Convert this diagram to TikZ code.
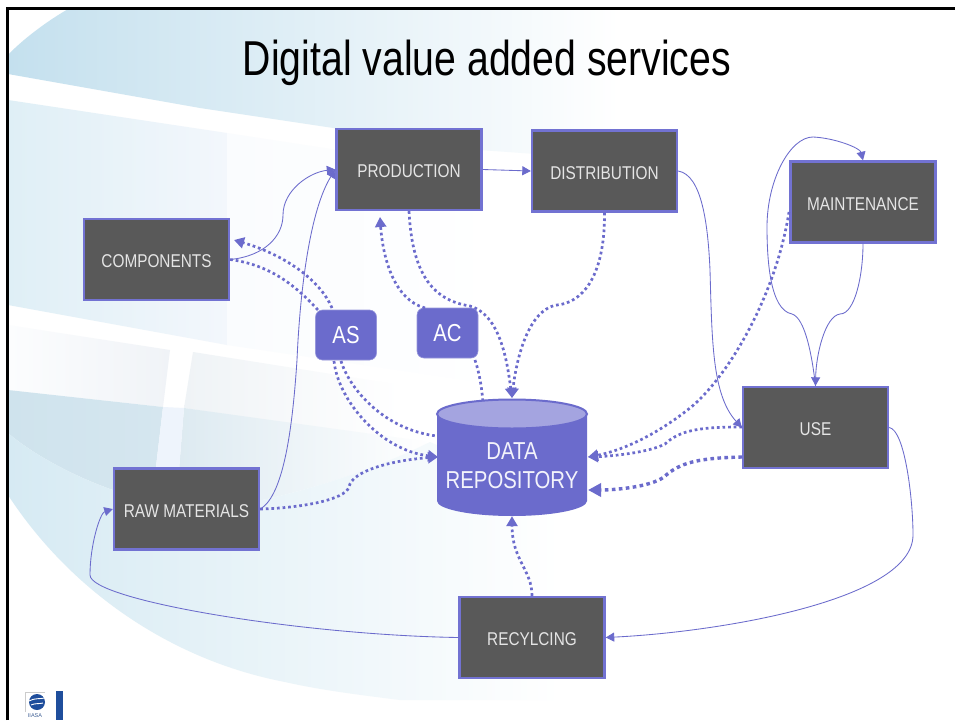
\documentclass[tikz,border=0pt]{standalone}
\usepackage{fontspec}
\setmainfont{Liberation Sans}
\newfontfamily\labfont[FakeStretch=0.83]{Liberation Sans}
\newfontfamily\titlefont[FakeStretch=0.80]{Liberation Sans}
\usetikzlibrary{arrows.meta}
\definecolor{pur}{HTML}{6B6BCC}
\definecolor{purline}{HTML}{7272D2}
\definecolor{boxfill}{HTML}{595959}
\definecolor{toptop}{HTML}{A4A4E0}
\definecolor{logoblue}{HTML}{1F4E9C}
\definecolor{a1}{HTML}{C4E0EE}\definecolor{a2}{HTML}{EAF4FA}
\definecolor{b1}{HTML}{DFEFF6}\definecolor{b2}{HTML}{F0F6FB}\definecolor{b3}{HTML}{F3F7FC}
\definecolor{b4}{HTML}{FAFCFE}
\definecolor{c1}{HTML}{FCFDFE}\definecolor{c2}{HTML}{F0F3F7}\definecolor{c3}{HTML}{EFF3F6}
\definecolor{d1}{HTML}{CFE3ED}\definecolor{d2}{HTML}{D5E6EF}\definecolor{d3}{HTML}{DDEAF1}\definecolor{d4}{HTML}{EFF4F7}
\definecolor{e1}{HTML}{D6EAF3}\definecolor{e2}{HTML}{F4FAFC}
\definecolor{vband}{HTML}{EEF4FC}
\tikzset{
  proc/.style={draw=purline,line width=2.4pt,fill=boxfill,minimum width=145pt,minimum height=81pt,inner sep=0pt,text=white!90!black,text depth=0pt,text height=16pt,font=\labfont\fontsize{18.5}{20}\selectfont},
  tag/.style={fill=pur,draw=pur!70!white,line width=.6pt,rounded corners=7pt,minimum width=61pt,minimum height=50pt,inner sep=0pt,text=white,font=\labfont\fontsize{24.5}{29}\selectfont},
  thin/.style={draw=pur,line width=.85pt,-{Triangle[length=8.5pt,width=9pt]}},
  dots/.style={draw=pur,line width=2.7pt,dash pattern=on 2.7pt off 2.9pt},
  dotsarrow/.style={dots,-{Triangle[length=10pt,width=11pt]}},
  dotsheavy/.style={draw=pur,line width=3.4pt,dash pattern=on 3.6pt off 3.4pt,-{Triangle[length=13pt,width=13pt]}},
}
\begin{document}
\begin{tikzpicture}[x=1pt,y=-1pt]
\useasboundingbox (0,0) rectangle (955,720);
\fill[white] (0,0) rectangle (955,720);
% background
\shade[left color=a1,middle color=a2,right color=white] (70,8) .. controls (45,22) and (20,42) .. (8,55) -- (8,74) -- (200,108) -- (480,150) -- (620,160) -- (620,8) -- cycle;
\shade[left color=b1,middle color=b2,right color=b3] (8,100) -- (227,133) -- (227,345) -- (8,305) -- cycle;
\shade[left color=b4,right color=white] (227,133) -- (500,175) -- (500,385) -- (227,345) -- cycle;
\shade[left color=c1,right color=c2] (8,325) -- (170,350) -- (163,407) -- (8,390) -- cycle;
\shade[left color=c3,right color=white] (193,352) -- (400,385) -- (400,440) -- (184,408) -- cycle;
\shade[left color=d1,right color=d2] (8,390) -- (163,407) -- (153,492) -- (113,490) .. controls (70,475) and (30,452) .. (8,433) -- cycle;
\shade[left color=d3,middle color=d4,right color=white] (184,408) -- (430,442) .. controls (370,472) and (300,492) .. (262,500) -- (177,495) -- cycle;
\fill[vband] (163,407) -- (184,408) -- (177,495) -- (153,492) -- cycle;
\shade[left color=e1,middle color=e2,right color=white] (8,433) .. controls (30,452) and (70,475) .. (113,490) -- (262,500) .. controls (300,492) and (370,472) .. (430,442) -- (560,500) -- (560,700) -- (400,700) .. controls (360,695) and (320,690) .. (285,682) .. controls (170,660) and (70,590) .. (8,495) -- cycle;
% frame
\draw[black,line width=3pt] (7,720) -- (7,8) -- (955,8);
% logo
\draw[gray!40,line width=.4pt] (25,692) -- (45,692) (25,692) -- (25,712);
\fill[logoblue] (37,702) circle (8);
\draw[white,line width=.9pt] (29,701) .. controls (34,698) and (40,699) .. (45,698) (31,705) .. controls (35,703) and (40,704) .. (43,703);
\node[inner sep=0pt,text=logoblue!70!gray,font=\fontsize{5.5}{6}\selectfont] (logotext) at (35,716) {IIASA};
\fill[logoblue] (56,691) rectangle (63,720);
% title
\node[inner sep=0pt,font=\titlefont\fontsize{49}{50}\selectfont] (title) at (487,63) {Digital value added services};
% repository
\fill[pur] (437,414) -- (437,501) .. controls (437,509) and (470,516) .. (512,516) .. controls (554,516) and (587,509) .. (587,501) -- (587,414) -- cycle;
\draw[fill=toptop,draw=pur,line width=2pt] (512,414) ellipse (75 and 14.5);
\node[inner sep=0pt,minimum width=150pt,minimum height=117pt] (repo) at (512,457.5) {};
\node[inner sep=0pt,text=white!92!pur,align=center,font=\labfont\fontsize{24.5}{29}\selectfont] (repolabel) at (512,465.5) {DATA\\REPOSITORY};
% boxes
\node[proc] (comp) at (156.5,259.5) {COMPONENTS};
\node[proc] (prod) at (409,169.5) {PRODUCTION};
\node[proc] (dist) at (604.5,171) {DISTRIBUTION};
\node[proc] (maint) at (863,202) {MAINTENANCE};
\node[proc] (use) at (815.5,427.5) {USE};
\node[proc] (raw) at (186.5,509) {RAW MATERIALS};
\node[proc] (recy) at (532,637.5) {RECYLCING};
\node[tag] (as) at (346,335) {AS};
\node[tag] (ac) at (447.5,333) {AC};
% thin connectors
\draw[thin] (comp.east) .. controls (265,256) and (283,236) .. (283,215) .. controls (283,190) and (310,172) .. (prod.west);
\draw[thin] (raw.east) .. controls (285,495) and (293,420) .. (297,360) .. controls (300,290) and (310,210) .. (prod.west);
\draw[thin] (prod.east) -- (dist.west);
\draw[thin] (dist.east) .. controls (702,175) and (708,225) .. (710,270) .. controls (712,340) and (712,395) .. (use.west);
\draw[thin] (use.north) .. controls (812,355) and (805,318) .. (792,314) .. controls (770,310) and (767,260) .. (767,227) .. controls (767,180) and (790,137) .. (813,137) .. controls (835,138) and (860,148) .. (maint.north);
\draw[thin] (maint.south) .. controls (863,275) and (855,314) .. (840,314) .. controls (825,316) and (816,355) .. (use.north);
\draw[thin] (use.east) .. controls (905,430) and (913,500) .. (913,535) .. controls (913,600) and (720,632) .. (recy.east);
\draw[thin] (recy.west) .. controls (300,635) and (90,600) .. (90,575) .. controls (90,545) and (100,513) .. (raw.west);
% dotted connectors
\coordinate (asTopR) at (332,308);
\coordinate (asTopL) at (318,310);
\coordinate (asBotL) at (334,361);
\coordinate (asBotR) at (341,361);
\coordinate (acTopL) at (425,308);
\coordinate (acBot) at (475,360);
\coordinate (prodIn) at (380,217);
\coordinate (compIn) at (234,240);
\coordinate (repoTop) at (483,403);
\coordinate (repoTip) at (512,398);
\coordinate (repoL1) at (437,436);
\coordinate (repoL2) at (438,457);
\coordinate (repoR1) at (588,457);
\coordinate (repoR2) at (588,490);
\coordinate (maintOut) at (789,212);
\coordinate (useOut1) at (742,427);
\coordinate (useOut2) at (742,457);
\draw[dotsarrow] (asTopR) .. controls (320,280) and (285,255) .. (compIn);
\draw[dots] (comp.east) .. controls (270,265) and (295,285) .. (asTopL);
\draw[dotsarrow] (acTopL) .. controls (395,300) and (383,260) .. (prodIn);
\draw[dotsarrow] (prod.south) .. controls (412,270) and (430,300) .. (470,306) .. controls (500,315) and (507,360) .. (repoTip);
\draw[dotsarrow] (dist.south) .. controls (605,280) and (580,303) .. (557,305) .. controls (525,310) and (515,370) .. (repoTip);
\draw[dots] (acBot) .. controls (480,375) and (482,390) .. (repoTop);
\draw[dots] (asBotR) .. controls (350,390) and (385,430) .. (repoL1);
\draw[dotsarrow] (asBotL) .. controls (338,400) and (380,450) .. (repoL2);
\draw[dotsarrow] (raw.east) .. controls (300,508) and (345,500) .. (349,487) .. controls (352,470) and (395,460) .. (repoL2);
\draw[dotsarrow] (maintOut) .. controls (775,300) and (725,380) .. (690,408) .. controls (650,440) and (615,452) .. (repoR1);
\draw[dotsarrow] (useOut1) .. controls (700,427) and (680,430) .. (665,444) .. controls (650,452) and (615,456) .. (repoR1);
\draw[dotsheavy] (useOut2) .. controls (700,458) and (680,462) .. (664,477) .. controls (650,487) and (615,490) .. (repoR2);
\draw[dotsarrow] (recy.north) .. controls (532,570) and (512,560) .. (repo.south);
\end{tikzpicture}
\end{document}
